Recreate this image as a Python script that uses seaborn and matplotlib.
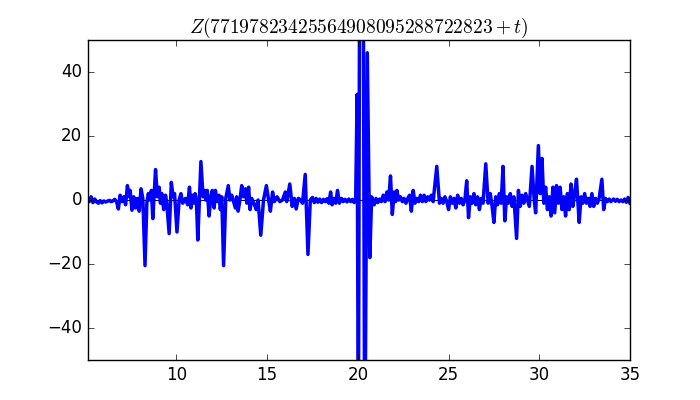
import matplotlib
matplotlib.use("Agg")
import matplotlib.pyplot as plt
import pandas as pd
import seaborn as sns

# Values (t offset, Z value)
t_vals = [
    5.1, 5.2, 5.3, 5.4, 5.5, 5.6, 5.7, 5.8, 5.9, 6.0, 6.1, 6.2, 6.3, 6.4, 6.5, 6.6, 6.7,
    6.8, 6.9, 7.0, 7.1, 7.2, 7.3, 7.4, 7.45, 7.55, 7.65, 7.75, 7.85, 7.95, 8.05, 8.15,
    8.27, 8.37, 8.45, 8.55, 8.62, 8.7, 8.85, 8.95, 9.05, 9.12, 9.2, 9.3, 9.4, 9.47,
    9.6, 9.72, 9.82, 9.9, 10.03, 10.15, 10.25, 10.35, 10.5, 10.62, 10.72, 10.8, 10.88,
    10.95, 11.03, 11.1, 11.18, 11.35, 11.47, 11.55, 11.62, 11.7, 11.8, 11.9, 11.98,
    12.08, 12.15, 12.25, 12.35, 12.42, 12.5, 12.6, 12.72, 12.86, 12.95, 13.05, 13.15,
    13.25, 13.32, 13.4, 13.5, 13.6, 13.7, 13.8, 13.88, 13.98, 14.06, 14.15, 14.3, 14.4,
    14.5, 14.65, 14.8, 14.96, 15.08, 15.18, 15.3, 15.4, 15.55, 15.7, 15.85, 16.0, 16.08,
    16.25, 16.38, 16.5, 16.6, 16.72, 16.85, 16.95, 17.1, 17.25, 17.38, 17.5, 17.6, 17.7,
    17.8, 17.9, 18.0, 18.1, 18.2, 18.3, 18.4, 18.5, 18.58, 18.68, 18.78, 18.88, 18.98,
    19.1, 19.2, 19.3, 19.4, 19.5, 19.6, 19.7, 19.8, 19.88, 19.96, 20.03, 20.1, 20.2,
    20.3, 20.38, 20.52, 20.66, 20.76, 20.84, 20.9, 21.0, 21.1, 21.2, 21.3, 21.4, 21.5,
    21.6, 21.7, 21.8, 21.9, 22.0, 22.08, 22.15, 22.25, 22.35, 22.45, 22.55, 22.65,
    22.75, 22.85, 22.95, 23.05, 23.15, 23.25, 23.35, 23.45, 23.55, 23.65, 23.75, 23.85,
    23.95, 24.05, 24.15, 24.35, 24.5, 24.6, 24.7, 24.8, 24.9, 25.0, 25.1, 25.2, 25.3,
    25.4, 25.5, 25.6, 25.7, 25.8, 25.9, 26.0, 26.1, 26.2, 26.3, 26.4, 26.5, 26.6, 26.7,
    26.8, 26.9, 27.05, 27.18, 27.3, 27.4, 27.5, 27.6, 27.7, 27.8, 27.9, 28.0, 28.1,
    28.2, 28.3, 28.4, 28.5, 28.6, 28.75, 28.85, 28.95, 29.05, 29.15, 29.25, 29.35,
    29.45, 29.6, 29.72, 29.8, 29.95, 30.05, 30.15, 30.25, 30.35, 30.45, 30.55, 30.65,
    30.75, 30.85, 30.95, 31.05, 31.15, 31.25, 31.35, 31.45, 31.55, 31.65, 31.75, 31.85,
    31.95, 32.05, 32.2, 32.3, 32.4, 32.5, 32.6, 32.7, 32.8, 32.9, 33.0, 33.1, 33.2,
    33.3, 33.45, 33.55, 33.65, 33.75, 33.85, 33.95, 34.1, 34.2, 34.3, 34.4, 34.5, 34.6,
    34.7, 34.8, 34.9, 35.0,
]
z_vals = [
    0.8, -0.5, 1.0, -0.8, 0.3, -0.6, -1.0, -0.2, -0.9, -0.3, -0.6, -0.4, -0.1, -0.5, -0.3, 0.2, -0.5,
    -2.8, 1.5, -0.5, 1.0, -1.5, 4.5, 1.0, 3.0, -3.2, 1.0, -2.5, 0.5, -3.5, 3.5, 0.5,
    -20.5, -1.0, 2.0, 0.0, 3.0, -5.8, 9.5, 1.0, 4.0, -1.0, 2.0, -3.0, 1.5, -1.0,
    -10.5, 5.5, 1.0, 2.0, -10.0, 0.0, 2.0, -1.0, 0.5, -1.5, 4.0, -2.5, 1.5,
    -1.0, 2.0, 0.0, -12.5, 12.0, 1.0, 3.0, 0.0, 3.0, -5.0, 1.0, 3.0,
    -2.5, 3.0, -0.5, 1.5, -3.0, 1.0, -20.5, 0.5, 4.5, 0.0, 1.5, -0.5,
    -2.5, 1.0, -3.5, 0.0, 4.5, 1.0, 3.5, -1.0, 4.0, -3.0, 0.5, -1.5, -3.0,
    0.0, -11.0, 0.0, 4.5, 0.0, -3.5, 2.5, -0.5, 1.0, -0.5, 0.0, 2.5, -0.5,
    5.0, -2.0, 0.5, -2.8, 0.5, 0.0, -1.0, 8.0, -17.0, 0.0, 0.8, -0.8, 0.5,
    -0.7, 0.3, -0.8, 0.2, -0.5, 0.4, -1.0, 2.5, -1.5, 0.5, -1.0, 3.0, -1.0,
    0.5, -0.5, 0.2, -0.6, 0.3, -0.5, 0.2, -0.8, 0.0, 33.0, -80.0, 80.0, 120.0,
    70.0, -90.0, 46.0, -18.0, 1.0, -0.5, -1.5, 0.5, -0.8, 0.3, -0.5, 1.5, -0.5,
    2.5, 0.0, 7.5, -4.5, 2.5, -0.5, 3.0, 0.0, 1.0, -0.5, 0.5, -1.0,
    0.5, 1.5, -3.5, 3.0, -1.0, 0.5, -0.5, 1.5, -0.5, 1.5, -0.5, 1.0,
    0.0, 1.5, -0.5, 10.5, -1.0, 0.5, -1.0, 1.0, -0.5, -3.0, 1.0, -1.0, 0.5,
    -2.5, 1.5, -1.0, 0.5, -1.5, 0.0, 6.0, -5.5, 1.0, -1.0, 2.0, -1.5, 1.0, -3.0,
    0.5, -1.0, 11.3, -1.0, 2.0, -2.0, -7.0, 1.0, -1.5, 2.0, -1.0, 10.5, -6.5,
    1.0, -1.0, 2.0, -2.0, 1.0, -12.0, 3.0, -2.0, 1.5, -1.0, 2.0, 0.0,
    -2.0, 10.5, 0.0, -4.0, 17.0, 2.0, 13.0, -1.0, 4.0, -3.0, 1.0, -5.0,
    4.0, -4.0, 4.5, -1.0, 4.0, -3.0, 1.0, -5.0, 2.0, -3.0, 5.0, -2.0,
    2.0, 6.5, -7.0, 1.0, -1.0, 2.0, -1.0, 0.5, -2.0, 2.0, -2.0, 0.5, -1.0,
    0.5, 6.5, -3.0, 0.5, -0.5, 0.3, -0.5, 0.3, -0.4, 0.2, -0.5, 0.0, -0.5,
    0.3, -0.7, 0.8, -1.0,
]
title = r"$Z(77197823425564908095288722823+t)$"

df = pd.DataFrame({"t": t_vals, "z": z_vals})

plt.style.use("classic")
plt.rcParams["mathtext.fontset"] = "cm"

fig, ax = plt.subplots(figsize=(7, 4), dpi=100)
fig.patch.set_facecolor("white")

ax.axhline(0, color="black", linewidth=0.8, zorder=0)
sns.lineplot(data=df, x="t", y="z", color="blue", linewidth=2.5,
             sort=False, estimator=None, ax=ax)

ax.set_xlim(5.1, 35)
ax.set_ylim(-50, 50)
ax.set_yticks([-40, -20, 0, 20, 40])
ax.set_xticks([10, 15, 20, 25, 30, 35])
ax.set_xlabel("")
ax.set_ylabel("")
ax.set_title(title, fontsize=14)

fig.subplots_adjust(left=0.125, right=0.9, bottom=0.1, top=0.9)
fig.savefig("out.png", dpi=100, facecolor="white")
